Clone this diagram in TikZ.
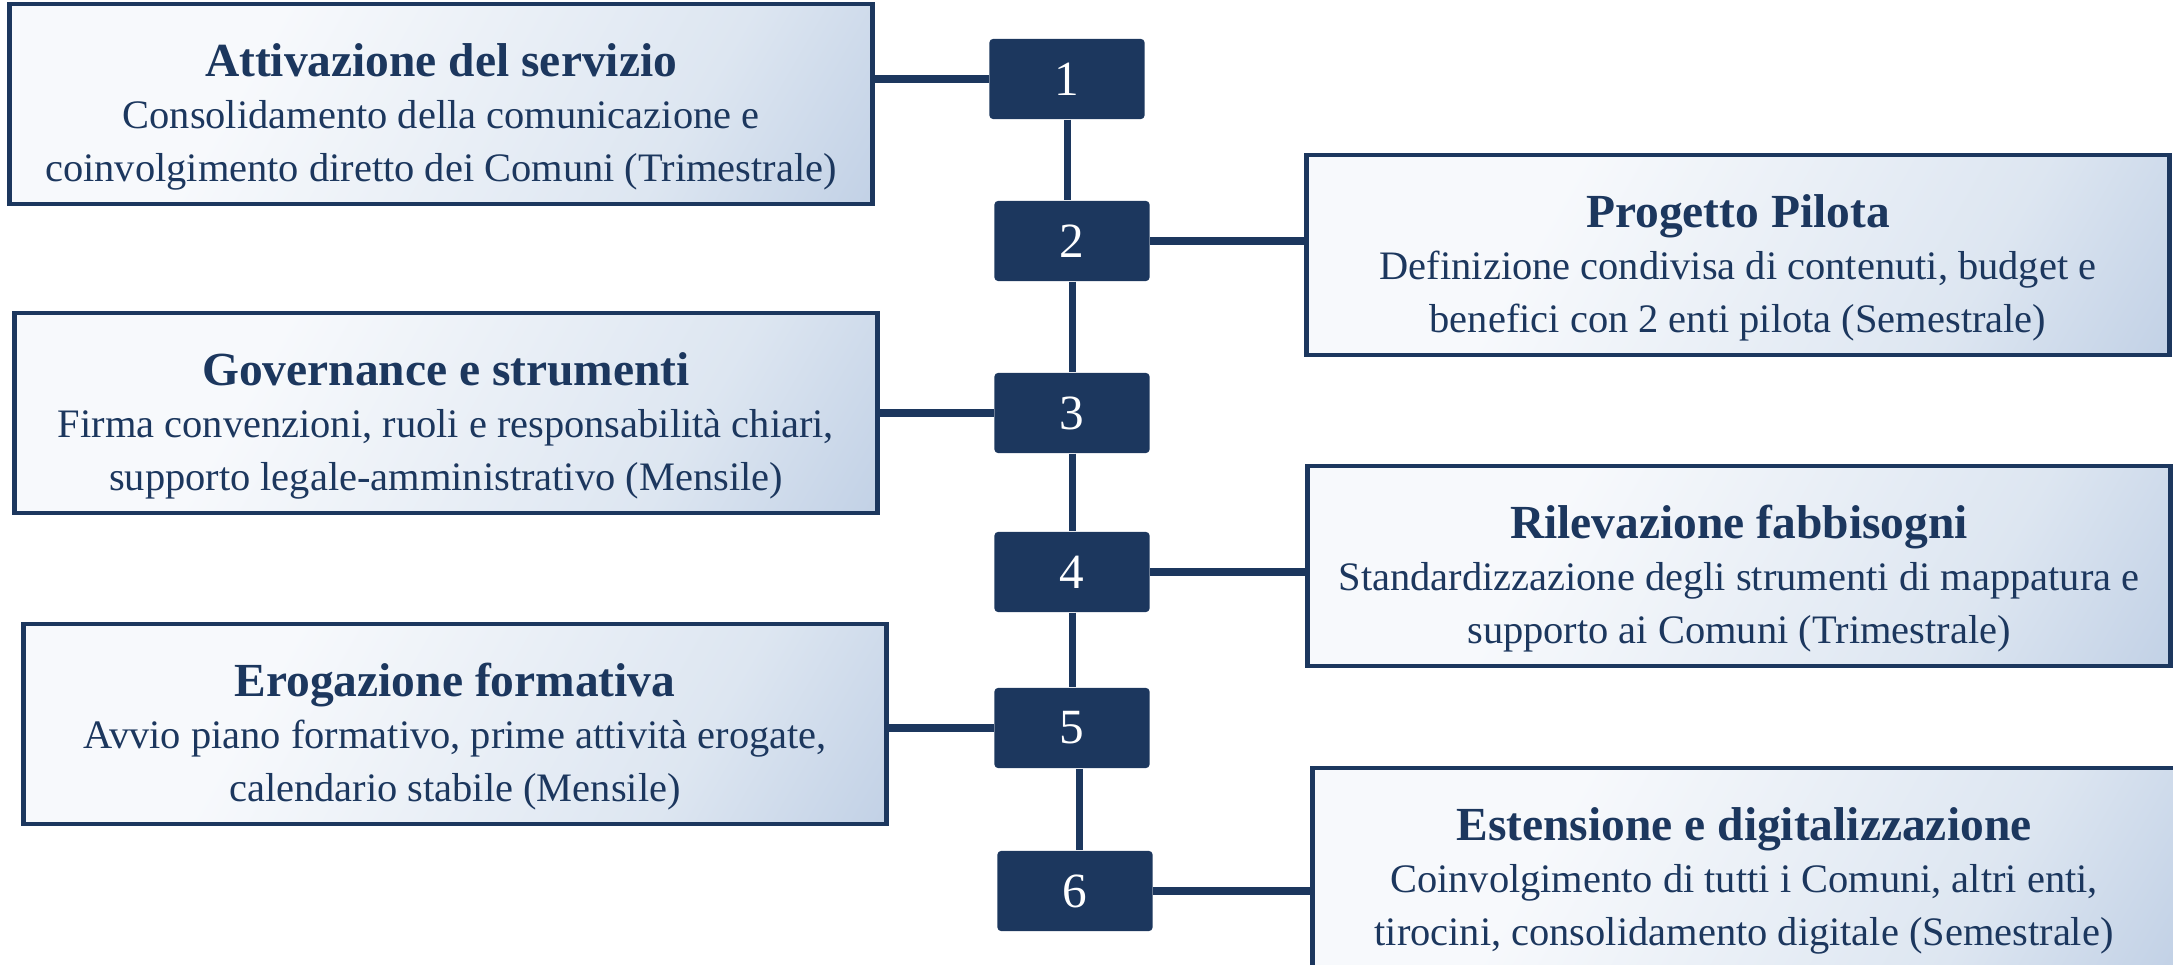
\documentclass[tikz,border=0pt]{standalone}
\usepackage{fontspec}
\setmainfont{Liberation Serif}
\usetikzlibrary{positioning}
\definecolor{navy}{HTML}{1C375E}
\definecolor{fadeA}{HTML}{F7F9FC}
\definecolor{fadeB}{HTML}{DDE6F1}
\definecolor{fadeC}{HTML}{A8BDDB}
\pgfdeclarehorizontalshading{boxfade}{100bp}{color(0bp)=(fadeA); color(35bp)=(fadeA); color(68bp)=(fadeB); color(100bp)=(fadeC)}
\newcommand{\phasetitle}[1]{\rule{0pt}{16.5pt}{\bfseries\fontsize{13.5}{15}\selectfont #1}}
\tikzset{
  phase/.style={rectangle, draw=navy, line width=1.3pt, minimum width=8.63cm, minimum height=2cm,
    shading=boxfade, shading angle=-30, align=center, text=navy, font=\fontsize{11.5}{14.9}\selectfont},
  stepnum/.style={rectangle, fill=navy, rounded corners=1pt, minimum width=1.55cm, minimum height=0.8cm,
    text=white, font=\fontsize{14}{16}\selectfont},
  link/.style={draw=navy, line width=2pt}
}
\begin{document}
\begin{tikzpicture}[x=0.01cm, y=-0.01cm]
  \useasboundingbox (0,0) rectangle (2173,965);
  \clip (0,0) rectangle (2173,965);
  % fasi
  \node[phase] (attivazione) at (441,104) {\phasetitle{Attivazione del servizio}\\Consolidamento della comunicazione e\\coinvolgimento diretto dei Comuni (Trimestrale)};
  \node[phase] (pilota) at (1738,255) {\phasetitle{Progetto Pilota}\\Definizione condivisa di contenuti, budget e\\benefici con 2 enti pilota (Semestrale)};
  \node[phase] (governance) at (446,413) {\phasetitle{Governance e strumenti}\\Firma convenzioni, ruoli e responsabilità chiari,\\supporto legale-amministrativo (Mensile)};
  \node[phase] (fabbisogni) at (1739,566) {\phasetitle{Rilevazione fabbisogni}\\Standardizzazione degli strumenti di mappatura e\\supporto ai Comuni (Trimestrale)};
  \node[phase] (erogazione) at (455,724) {\phasetitle{Erogazione formativa}\\Avvio piano formativo, prime attività erogate,\\calendario stabile (Mensile)};
  \node[phase] (estensione) at (1744,868) {\phasetitle{Estensione e digitalizzazione}\\Coinvolgimento di tutti i Comuni, altri enti,\\tirocini, consolidamento digitale (Semestrale)};
  % numeri
  \node[stepnum] (n1) at (1067,79) {1};
  \node[stepnum] (n2) at (1072,241) {2};
  \node[stepnum] (n3) at (1072,413) {3};
  \node[stepnum] (n4) at (1072,572) {4};
  \node[stepnum] (n5) at (1072,728) {5};
  \node[stepnum] (n6) at (1075,891) {6};
  % collegamenti
  \draw[link] (n1.south) -- (n1.south |- n2.north);
  \draw[link] (n2.south) -- (n2.south |- n3.north);
  \draw[link] (n3.south) -- (n3.south |- n4.north);
  \draw[link] (n4.south) -- (n4.south |- n5.north);
  \draw[link] ([xshift=0.07cm]n5.south) -- ([xshift=0.07cm]n5.south |- n6.north);
  \draw[link] (n1.west) -- (n1.west -| attivazione.east);
  \draw[link] (n2.east) -- (n2.east -| pilota.west);
  \draw[link] (n3.west) -- (n3.west -| governance.east);
  \draw[link] (n4.east) -- (n4.east -| fabbisogni.west);
  \draw[link] (n5.west) -- (n5.west -| erogazione.east);
  \draw[link] (n6.east) -- (n6.east -| estensione.west);
\end{tikzpicture}
\end{document}
